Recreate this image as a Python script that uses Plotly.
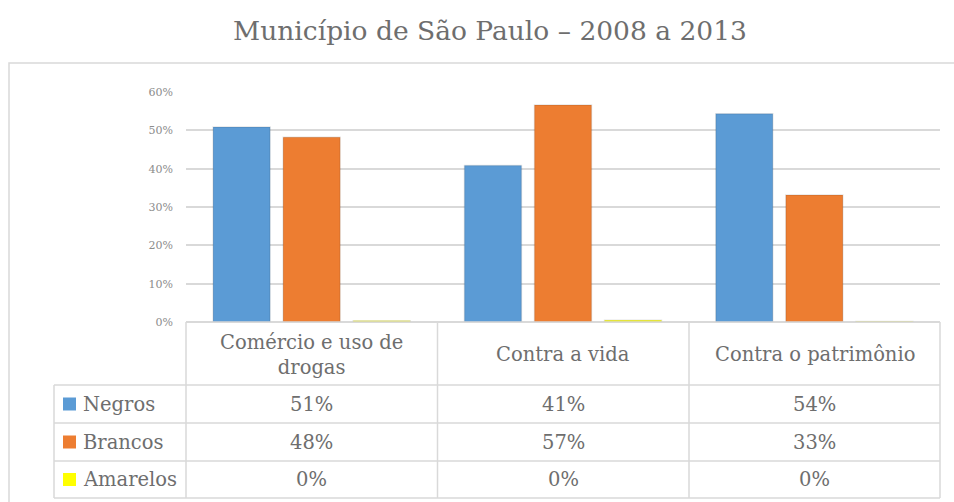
import plotly.graph_objects as go

# Data
categories = ["Comércio e uso de drogas", "Contra a vida", "Contra o patrimônio"]
header_labels = ["Comércio e uso de<br>drogas", "Contra a vida", "Contra o patrimônio"]
series_names = ["Negros", "Brancos", "Amarelos"]
negros = [50.9, 40.8, 54.3]
brancos = [48.2, 56.6, 33.1]
amarelos = [0.3, 0.45, 0.1]
series_values = [negros, brancos, amarelos]
colors = ["#5B9BD5", "#ED7D31", "#FFFF00"]
y_ticks = [0, 10, 20, 30, 40, 50, 60]
y_tick_labels = ["0%", "10%", "20%", "30%", "40%", "50%", "60%"]

W, H = 954, 502
L, R, T, B = 186, 14, 92, 180
PW, PH = W - L - R, H - T - B
FONT = "DejaVu Serif"
TEXT = "#6e6e6e"
GRID = "#d9d9d9"
TABLE_SIZE = 19.5


def px_x(x):
    return (x - L) / PW


def px_y(y):
    return (H - B - y) / PH


fig = go.Figure()
for name, vals, col in zip(series_names, series_values, colors):
    fig.add_trace(go.Bar(
        x=categories, y=vals, name=name,
        marker=dict(color=col, line=dict(color="rgba(0,0,0,0.10)", width=1.5)),
        showlegend=False,
    ))

shapes = []
annotations = []

# outer chart frame
shapes.append(dict(type="rect", xref="paper", yref="paper",
                   x0=px_x(9), x1=px_x(968), y0=px_y(63), y1=px_y(515),
                   line=dict(color=GRID, width=1.5), fillcolor="rgba(0,0,0,0)",
                   layer="below"))

# data table under the plot
col_edges = [186, 437.5, 689, 940]
row_edges = [322, 385, 423, 461, 498]
legend_left = 54


def hline(y, xa, xb):
    shapes.append(dict(type="line", xref="paper", yref="paper",
                       x0=px_x(xa), x1=px_x(xb), y0=px_y(y), y1=px_y(y),
                       line=dict(color=GRID, width=1.5)))


def vline(x, ya, yb):
    shapes.append(dict(type="line", xref="paper", yref="paper",
                       x0=px_x(x), x1=px_x(x), y0=px_y(ya), y1=px_y(yb),
                       line=dict(color=GRID, width=1.5)))


hline(row_edges[0], col_edges[0], col_edges[-1])
for y in row_edges[1:]:
    hline(y, legend_left, col_edges[-1])
vline(legend_left, row_edges[1], row_edges[-1])
for x in col_edges:
    vline(x, row_edges[0], row_edges[-1])

# header row
for i, lab in enumerate(header_labels):
    cx = (col_edges[i] + col_edges[i + 1]) / 2
    cy = (row_edges[0] + row_edges[1]) / 2 + 1
    annotations.append(dict(xref="paper", yref="paper", x=px_x(cx), y=px_y(cy),
                            text=lab, showarrow=False, xanchor="center", yanchor="middle",
                            font=dict(family=FONT, size=TABLE_SIZE, color=TEXT)))

# value rows with legend keys
for r, (name, vals, col) in enumerate(zip(series_names, series_values, colors)):
    cy = (row_edges[r + 1] + row_edges[r + 2]) / 2
    shapes.append(dict(type="rect", xref="paper", yref="paper",
                       x0=px_x(63), x1=px_x(76), y0=px_y(cy - 6.5), y1=px_y(cy + 6.5),
                       fillcolor=col, line=dict(width=0)))
    annotations.append(dict(xref="paper", yref="paper", x=px_x(81), y=px_y(cy),
                            text=name, showarrow=False, xanchor="left", yanchor="middle",
                            font=dict(family=FONT, size=TABLE_SIZE, color=TEXT)))
    for i, v in enumerate(vals):
        cx = (col_edges[i] + col_edges[i + 1]) / 2
        annotations.append(dict(xref="paper", yref="paper", x=px_x(cx), y=px_y(cy),
                                text=f"{v:.0f}%", showarrow=False, xanchor="center",
                                yanchor="middle",
                                font=dict(family=FONT, size=TABLE_SIZE, color=TEXT)))

fig.update_layout(
    width=W, height=H,
    margin=dict(l=L, r=R, t=T, b=B),
    paper_bgcolor="white", plot_bgcolor="white",
    barmode="group", bargap=0.164, bargroupgap=0.186,
    title=dict(text="Município de São Paulo – 2008 a 2013",
               xref="container", yref="container",
               x=490 / W, y=1 - 31 / H, xanchor="center", yanchor="middle",
               font=dict(family=FONT, size=26.5, color=TEXT)),
    xaxis=dict(showticklabels=False, showgrid=False, zeroline=False, showline=False),
    yaxis=dict(range=[0, 60], tickmode="array", tickvals=y_ticks, ticktext=y_tick_labels,
               showgrid=True, gridcolor=GRID, gridwidth=1.5,
               zeroline=True, zerolinecolor=GRID, zerolinewidth=1.5,
               showline=False, ticks="", ticklabelstandoff=12,
               tickfont=dict(family=FONT, size=11, color="#8c8c8c")),
    shapes=shapes,
    annotations=annotations,
)

fig.write_html("out.html")
